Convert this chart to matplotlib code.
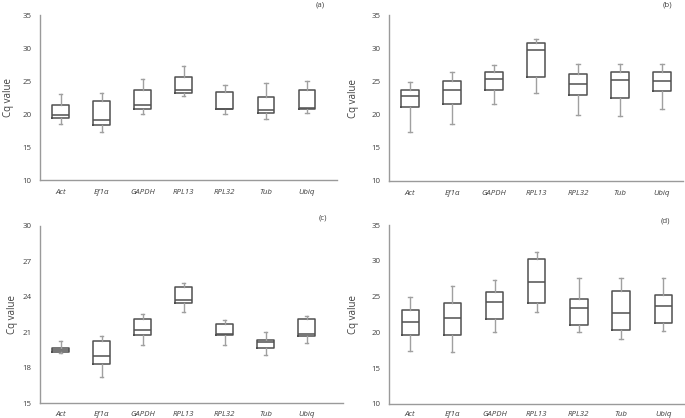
import matplotlib
matplotlib.use("Agg")
import matplotlib.pyplot as plt

plt.rcParams["font.family"] = ["Open Sans", "DejaVu Sans"]

genes = ["Act", "Ef1α", "GAPDH", "RPL13", "RPL32", "Tub", "Ubiq"]

# (a)
a_low = [18.5, 17.3, 20.0, 22.75, 20.0, 19.2, 20.15]
a_q1 = [19.35, 18.4, 20.85, 23.2, 20.8, 20.1, 20.7]
a_med = [19.8, 19.05, 21.35, 23.6, 20.85, 20.55, 21.0]
a_q3 = [21.4, 22.0, 23.6, 25.55, 23.4, 22.55, 23.65]
a_high = [23.0, 23.2, 25.35, 27.3, 24.45, 24.65, 25.05]

# (b)
b_low = [17.4, 18.6, 21.65, 23.2, 19.95, 19.8, 20.85]
b_q1 = [21.1, 21.65, 23.65, 25.6, 23.0, 22.55, 23.5]
b_med = [22.85, 23.65, 25.4, 29.7, 24.55, 25.2, 25.05]
b_q3 = [23.7, 25.05, 26.4, 30.75, 26.05, 26.35, 26.45]
b_high = [24.9, 26.45, 27.45, 31.4, 27.6, 27.6, 27.6]

# (c)
c_low = [19.22, 17.25, 19.95, 22.68, 19.9, 19.05, 20.06]
c_q1 = [19.3, 18.35, 20.8, 23.44, 20.74, 19.7, 20.68]
c_med = [19.53, 18.97, 21.16, 23.72, 20.82, 20.18, 20.88]
c_q3 = [19.7, 20.3, 22.1, 24.85, 21.67, 20.32, 22.1]
c_high = [20.23, 20.7, 22.57, 25.2, 22.03, 21.02, 22.37]

# (d)
d_low = [17.4, 17.3, 20.05, 22.8, 20.0, 19.1, 20.15]
d_q1 = [19.7, 19.6, 21.85, 24.15, 21.0, 20.35, 21.3]
d_med = [21.4, 22.05, 24.2, 27.1, 23.35, 22.65, 23.7]
d_q3 = [23.2, 24.15, 25.6, 30.3, 24.7, 25.75, 25.2]
d_high = [24.9, 26.45, 27.4, 31.3, 27.55, 27.55, 27.55]

BOX = "#505050"
WHISK = "#a0a0a0"
SPINE = "#9a9a9a"
TXT = "#404040"


def draw_panel(ax, low, q1, med, q3, high, yticks, xmax, xpad, ylpad):
    stats = []
    for i in range(len(genes)):
        stats.append({"whislo": low[i], "q1": q1[i], "med": med[i],
                      "q3": q3[i], "whishi": high[i], "fliers": []})
    ax.bxp(stats, positions=range(1, len(genes) + 1), widths=0.41,
           showfliers=False,
           boxprops=dict(color=BOX, linewidth=1.1),
           medianprops=dict(color=BOX, linewidth=1.1),
           whiskerprops=dict(color=WHISK, linewidth=1.0),
           capprops=dict(color=WHISK, linewidth=1.0),
           capwidths=0.08)
    ax.set_xlim(0.5, xmax)
    ax.set_ylim(yticks[0], yticks[-1])
    ax.set_yticks(yticks)
    ax.set_xticks(range(1, len(genes) + 1))
    ax.set_xticklabels(genes, style="italic", va="baseline")
    for s in ["top", "right"]:
        ax.spines[s].set_visible(False)
    for s in ["left", "bottom"]:
        ax.spines[s].set_color(SPINE)
        ax.spines[s].set_linewidth(1.0)
    ax.tick_params(length=0, labelsize=5.7, colors=TXT)
    ax.tick_params(axis="x", pad=xpad)
    ax.tick_params(axis="y", pad=6)
    ax.set_ylabel("Cq value", fontsize=7, color=TXT, labelpad=ylpad)


fig = plt.figure(figsize=(6.85, 4.18), dpi=100)

ax_a = fig.add_axes([0.0584, 0.569, 0.4336, 0.395])
ax_b = fig.add_axes([0.568, 0.567, 0.429, 0.397])
ax_c = fig.add_axes([0.0584, 0.035, 0.442, 0.425])
ax_d = fig.add_axes([0.568, 0.034, 0.431, 0.427])

draw_panel(ax_a, a_low, a_q1, a_med, a_q3, a_high,
           [10, 15, 20, 25, 30, 35], 7.73, 10, 6)
draw_panel(ax_b, b_low, b_q1, b_med, b_q3, b_high,
           [10, 15, 20, 25, 30, 35], 7.5, 10, 9)
draw_panel(ax_c, c_low, c_q1, c_med, c_q3, c_high,
           [15, 18, 21, 24, 27, 30], 7.88, 9, 3)
draw_panel(ax_d, d_low, d_q1, d_med, d_q3, d_high,
           [10, 15, 20, 25, 30, 35], 7.5, 9, 9)

fig.text(0.467, 0.988, "(a)", fontsize=5.7, color=TXT, ha="center", va="center")
fig.text(0.975, 0.988, "(b)", fontsize=5.7, color=TXT, ha="center", va="center")
fig.text(0.4715, 0.478, "(c)", fontsize=5.7, color=TXT, ha="center", va="center")
fig.text(0.971, 0.471, "(d)", fontsize=5.7, color=TXT, ha="center", va="center")

fig.savefig("out.png", dpi=100)
